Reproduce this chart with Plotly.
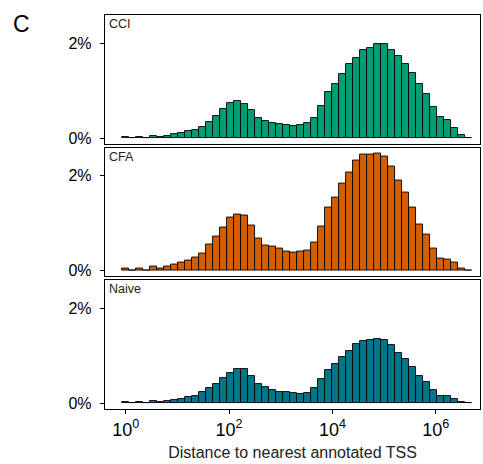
import plotly.graph_objects as go

# bin centres, log10(distance to nearest annotated TSS)
bin_centers = [0.000, 0.135, 0.270, 0.406, 0.541, 0.676, 0.811, 0.946, 1.082, 1.217,
               1.352, 1.487, 1.622, 1.758, 1.893, 2.028, 2.163, 2.298, 2.434, 2.569,
               2.704, 2.839, 2.974, 3.110, 3.245, 3.380, 3.515, 3.650, 3.786, 3.921,
               4.056, 4.191, 4.326, 4.462, 4.597, 4.732, 4.867, 5.002, 5.138, 5.273,
               5.408, 5.543, 5.678, 5.814, 5.949, 6.084, 6.219, 6.354, 6.490, 6.625]
bin_width = 0.1352

# percent of peaks per bin
cci = [0.02, 0.00, 0.02, 0.00, 0.05, 0.02, 0.05, 0.08, 0.10, 0.14,
       0.18, 0.24, 0.34, 0.47, 0.61, 0.74, 0.78, 0.72, 0.60, 0.42,
       0.35, 0.32, 0.29, 0.27, 0.26, 0.28, 0.32, 0.42, 0.67, 0.97,
       1.13, 1.34, 1.55, 1.69, 1.86, 1.89, 1.99, 1.97, 1.85, 1.73,
       1.55, 1.36, 1.13, 0.92, 0.65, 0.44, 0.39, 0.22, 0.07, 0.01]
cfa = [0.05, 0.00, 0.05, 0.00, 0.09, 0.04, 0.08, 0.13, 0.17, 0.22,
       0.28, 0.37, 0.55, 0.72, 0.91, 1.12, 1.17, 1.16, 0.95, 0.67,
       0.53, 0.51, 0.46, 0.41, 0.39, 0.40, 0.42, 0.59, 0.92, 1.32,
       1.54, 1.83, 2.07, 2.31, 2.44, 2.44, 2.47, 2.40, 2.19, 1.89,
       1.64, 1.32, 0.97, 0.76, 0.46, 0.26, 0.24, 0.17, 0.05, 0.01]
naive = [0.02, 0.00, 0.03, 0.00, 0.05, 0.03, 0.05, 0.07, 0.09, 0.12,
         0.15, 0.23, 0.31, 0.40, 0.53, 0.63, 0.72, 0.72, 0.58, 0.41,
         0.33, 0.28, 0.24, 0.23, 0.21, 0.20, 0.22, 0.31, 0.50, 0.70,
         0.83, 0.97, 1.10, 1.24, 1.31, 1.33, 1.35, 1.33, 1.22, 1.06,
         0.93, 0.76, 0.58, 0.45, 0.27, 0.16, 0.14, 0.08, 0.03, 0.01]

panels = ["CCI", "CFA", "Naive"]
series = [cci, cfa, naive]
colors = ["#009E73", "#D55E00", "#007688"]

x_tickvals = [0, 2, 4, 6]
x_ticktext = ["10<sup>0</sup>", "10<sup>2</sup>", "10<sup>4</sup>", "10<sup>6</sup>"]
y_tickvals = [0, 2]
y_ticktext = ["0%", "2%"]

FONT = "Liberation Sans, Arial, Helvetica, sans-serif"

fig = go.Figure()

gap = 0.0089
h = (1 - 2 * gap) / 3
domains = [[1 - h, 1.0], [h + gap, 2 * h + gap], [0.0, h]]

for k, (name, vals, col) in enumerate(zip(panels, series, colors)):
    ax = "" if k == 0 else str(k + 1)
    fig.add_trace(go.Bar(
        x=bin_centers, y=vals, width=bin_width,
        marker=dict(color=col, line=dict(color="black", width=0.9)),
        xaxis="x" + ax, yaxis="y" + ax, showlegend=False,
    ))
    is_bottom = (k == 2)
    fig.layout["xaxis" + ax] = dict(
        range=[-0.4006, 6.856], anchor="y" + ax,
        showline=True, linecolor="black", linewidth=1.4, mirror=True,
        showgrid=False, zeroline=False,
        tickmode="array", tickvals=x_tickvals, ticktext=x_ticktext,
        showticklabels=is_bottom,
        ticks="outside" if is_bottom else "", ticklen=4, tickwidth=1, tickcolor="black",
        tickfont=dict(family=FONT, size=18, color="black"),
        matches=None if k == 0 else "x",
    )
    fig.layout["yaxis" + ax] = dict(
        domain=domains[k], anchor="x" + ax, range=[-0.124, 2.59],
        showline=True, linecolor="black", linewidth=1.4, mirror=True,
        showgrid=False, zeroline=False,
        tickmode="array", tickvals=y_tickvals, ticktext=y_ticktext,
        ticks="outside", ticklen=4, tickwidth=1, tickcolor="black",
        ticklabelstandoff=5,
        tickfont=dict(family=FONT, size=16, color="black"),
    )
    fig.add_annotation(
        text=name, xref="x" + ax + " domain", yref="y" + ax + " domain",
        x=0.005, y=1.0, xanchor="left", yanchor="top", showarrow=False,
        font=dict(family=FONT, size=12.5, color="#222222"),
    )

fig.layout.xaxis3.title = dict(text="Distance to nearest annotated TSS",
                               font=dict(family=FONT, size=16, color="#222222"),
                               standoff=8)

fig.add_annotation(text="C", xref="paper", yref="paper", x=-0.25, y=1.015,
                   xanchor="left", yanchor="top", showarrow=False,
                   font=dict(family=FONT, size=23, color="black"))

fig.update_layout(
    width=483, height=464,
    margin=dict(l=105, r=3, t=15, b=55),
    paper_bgcolor="white", plot_bgcolor="white",
    bargap=0, barmode="overlay",
    font=dict(family=FONT),
)

fig.write_html("out.html", config={"displayModeBar": False},
               post_script="document.body.style.margin='0';")
